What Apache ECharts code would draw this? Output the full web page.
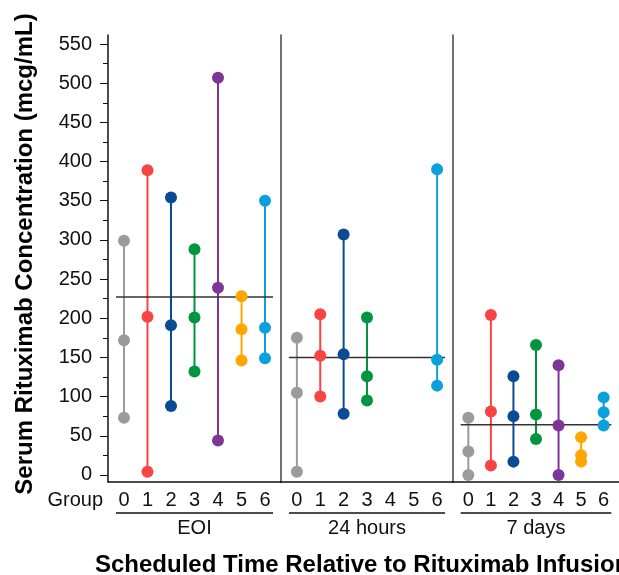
<!DOCTYPE html>
<html>
<head>
<meta charset="UTF-8">
<title>Serum Rituximab Concentration</title>
<script src="https://cdn.jsdelivr.net/npm/echarts@6/dist/echarts.min.js"></script>
<style>
  html, body { margin: 0; padding: 0; background: #fff; }
  #chart { width: 619px; height: 575px; }
</style>
</head>
<body>
<div id="chart"></div>
<script>
// groups and time points
var groups = ['0', '1', '2', '3', '4', '5', '6'];
var timePoints = ['EOI', '24 hours', '7 days'];
var groupColors = ['#9b9b9b', '#fa4343', '#0b4a94', '#00953f', '#7d3596', '#ffa600', '#0aa0dc'];

// min / median / max per group
var eoiValues = [[73, 172, 299], [4, 202, 389], [88, 191, 354], [132, 201, 288], [44, 239, 507], [146, 186, 228], [149, 188, 350]];
var h24Values = [[4, 105, 175], [100, 152, 205], [78, 154, 307], [95, 126, 201], [], [], [114, 147, 390]];
var d7Values = [[0, 30, 73], [12, 81, 204], [17, 75, 126], [46, 77, 166], [0, 63, 140], [17, 25, 48], [63, 80, 99]];
var panelValues = [eoiValues, h24Values, d7Values];

// overall mean per time point
var means = [227, 150, 64];

var yTicks = [0, 50, 100, 150, 200, 250, 300, 350, 400, 450, 500, 550];
var yMinorTicks = [25, 75, 125, 175, 225, 275, 325, 375, 425, 475, 525];

var font = 'Liberation Sans, Arial, Helvetica, sans-serif';
var gridLeft = [108, 281, 453];
var gridWidth = [173, 172, 173];

var chart = echarts.init(document.getElementById('chart'));

var grids = [], xAxes = [], yAxes = [], series = [];
for (var p = 0; p < 3; p++) {
    grids.push({ left: gridLeft[p], top: 35, width: gridWidth[p], height: 447 });
    xAxes.push({
        type: 'value', gridIndex: p, min: -0.68, max: 6.68, position: 'bottom',
        axisLine: { show: true, onZero: false, lineStyle: { color: '#111', width: 1.5 } },
        axisTick: { show: false },
        splitLine: { show: false },
        axisLabel: {
            customValues: [0, 1, 2, 3, 4, 5, 6], margin: 8,
            fontSize: 20, color: '#111', fontFamily: font,
            formatter: function (v) { return groups[v]; }
        }
    });
    yAxes.push({
        type: 'value', gridIndex: p, min: -9, max: 561.5, position: 'left',
        axisLine: { show: true, onZero: false, lineStyle: { color: p === 0 ? '#111' : '#444', width: 1.5 } },
        axisTick: p === 0 ? { show: true, customValues: yTicks, length: 8, lineStyle: { color: '#111' } } : { show: false },
        axisLabel: p === 0 ? { show: true, customValues: yTicks, margin: 16, fontSize: 20, color: '#111', fontFamily: font } : { show: false },
        splitLine: { show: false }
    });
}
// minor ticks on the first panel
yAxes.push({
    type: 'value', gridIndex: 0, min: -9, max: 561.5, position: 'left', offset: 0,
    axisLine: { show: false, onZero: false },
    axisTick: { show: true, customValues: yMinorTicks, length: 5, lineStyle: { color: '#111' } },
    axisLabel: { show: false },
    splitLine: { show: false }
});

// range lines
for (var p = 0; p < 3; p++) {
    panelValues[p].forEach(function (vals, g) {
        if (!vals.length) return;
        series.push({
            type: 'line', xAxisIndex: p, yAxisIndex: p, silent: true,
            showSymbol: false, z: 2,
            lineStyle: { color: groupColors[g], width: 2 },
            data: [[g, Math.min.apply(null, vals)], [g, Math.max.apply(null, vals)]]
        });
    });
}
// mean lines
for (var p = 0; p < 3; p++) {
    series.push({
        type: 'line', xAxisIndex: p, yAxisIndex: p, silent: true,
        showSymbol: false, z: 3,
        lineStyle: { color: '#333', width: 1.5 },
        data: [[-0.34, means[p]], [6.34, means[p]]]
    });
}
// dots
for (var p = 0; p < 3; p++) {
    var pts = [];
    panelValues[p].forEach(function (vals, g) {
        vals.forEach(function (v) {
            pts.push({ value: [g, v], itemStyle: { color: groupColors[g] } });
        });
    });
    series.push({
        type: 'scatter', xAxisIndex: p, yAxisIndex: p, silent: true,
        symbol: 'circle', symbolSize: 12, z: 4,
        itemStyle: { opacity: 1 },
        data: pts
    });
}

chart.setOption({
    animation: false,
    grid: grids,
    xAxis: xAxes,
    yAxis: yAxes,
    series: series
});

// panel labels, underlines and titles
var graphics = [];
for (var p = 0; p < 3; p++) {
    var x0 = chart.convertToPixel({ xAxisIndex: p }, -0.34);
    var x1 = chart.convertToPixel({ xAxisIndex: p }, 6.34);
    graphics.push({
        type: 'line', shape: { x1: x0, y1: 513, x2: x1, y2: 513 },
        style: { stroke: '#111', lineWidth: 1.5 }
    });
    graphics.push({
        type: 'text', x: (x0 + x1) / 2, y: 528,
        style: { text: timePoints[p], font: '20px ' + font, fill: '#111', textAlign: 'center', textVerticalAlign: 'middle' }
    });
}
graphics.push({
    type: 'text', x: 103, y: 500,
    style: { text: 'Group', font: '20px ' + font, fill: '#111', textAlign: 'right', textVerticalAlign: 'middle' }
});
graphics.push({
    type: 'text', x: 95, y: 565,
    style: { text: 'Scheduled Time Relative to Rituximab Infusion', font: 'bold 24px ' + font, fill: '#000', textAlign: 'left', textVerticalAlign: 'middle' }
});
graphics.push({
    type: 'text', x: 25, y: 254, rotation: Math.PI / 2,
    style: { text: 'Serum Rituximab Concentration (mcg/mL)', font: 'bold 24px ' + font, fill: '#000', textAlign: 'center', textVerticalAlign: 'middle' }
});
chart.setOption({ graphic: graphics });
</script>
</body>
</html>
